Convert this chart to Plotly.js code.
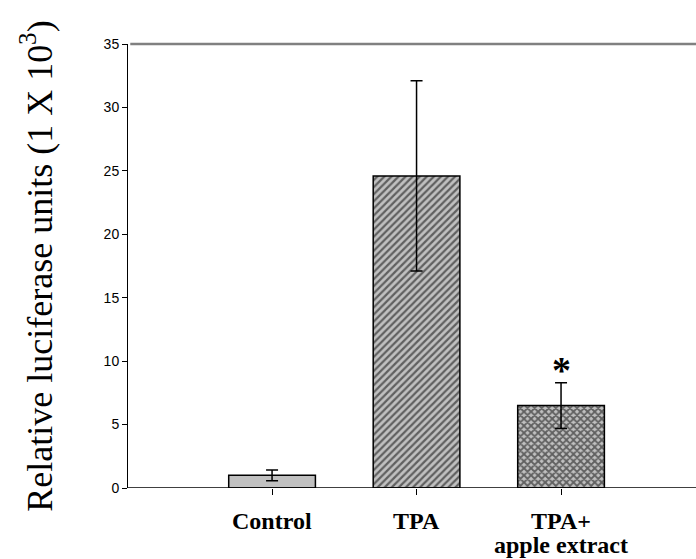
<!DOCTYPE html>
<html>
<head>
<meta charset="utf-8">
<script src="https://cdn.plot.ly/plotly-3.0.1.min.js"></script>
<style>
  html, body { margin: 0; padding: 0; background: #fff; }
  #chart { width: 696px; height: 559px; }
</style>
</head>
<body>
<div id="chart"></div>
<script>
const categories = ["Control", "TPA", "TPA+|apple extract"];
const values = [1.0, 24.6, 6.5];
const errors = [0.42, 7.5, 1.8];
const significance = ["", "", "*"];
const yTicks = [0, 5, 10, 15, 20, 25, 30, 35];

const xPos = categories.map((c, i) => i);
const serif = "Liberation Serif, Times New Roman, serif";

const patternShapes = ["", "/", "x"];
const barTraces = categories.map((c, i) => ({
  type: "bar",
  x: [xPos[i]],
  y: [values[i]],
  width: 0.6,
  error_y: { type: "data", array: [errors[i]], visible: true, color: "#000", thickness: 1.5, width: 6 },
  marker: {
    color: "#c0c0c0",
    line: { color: "#000", width: 1.5 },
    pattern: patternShapes[i] ? {
      shape: patternShapes[i],
      bgcolor: "#c0c0c0",
      fgcolor: "#000",
      size: 5,
      solidity: patternShapes[i] === "/" ? 0.45 : 0.6,
      fillmode: "overlay"
    } : { shape: "" }
  },
  showlegend: false,
  hoverinfo: "skip"
}));

const annotations = [];
significance.forEach((s, i) => {
  if (s) annotations.push({
    x: xPos[i], y: values[i] + errors[i],
    xref: "x", yref: "y",
    text: "<b>" + s + "</b>",
    showarrow: false,
    yanchor: "bottom",
    yshift: -10,
    font: { family: serif, size: 38, color: "#000" }
  });
});
categories.forEach((c, i) => {
  c.split("|").forEach((line, j) => {
    annotations.push({
      x: xPos[i], y: 0, xref: "x", yref: "paper",
      text: "<b>" + line + "</b>",
      showarrow: false,
      yanchor: "middle",
      borderpad: 0,
      yshift: -33 - 24 * j,
      font: { family: serif, size: 24, color: "#000" }
    });
  });
});

const layout = {
  width: 696, height: 559,
  margin: { l: 128, r: 0, t: 44, b: 71 },
  paper_bgcolor: "#fff",
  plot_bgcolor: "#fff",
  xaxis: {
    range: [-0.997, 2.934],
    tickmode: "array",
    tickvals: xPos,
    showticklabels: false,
    ticks: "outside", ticklen: 6, tickwidth: 1, tickcolor: "#000",
    showline: false, showgrid: false, zeroline: false
  },
  yaxis: {
    range: [0, 35],
    tickmode: "array",
    tickvals: yTicks,
    ticktext: yTicks.map(String),
    ticks: "outside", ticklen: 5, tickwidth: 1, tickcolor: "#000",
    showline: true, linecolor: "#000", linewidth: 1,
    showgrid: false, zeroline: false,
    tickfont: { family: "Liberation Sans, Arial, sans-serif", size: 14, color: "#000" },
    title: {
      text: "Relative luciferase units (1 X 10<sup>3</sup>)",
      font: { family: serif, size: 36, color: "#000" },
      standoff: 40
    }
  },
  shapes: [
    { type: "line", xref: "paper", yref: "paper", x0: 0.004, x1: 1, y0: 1, y1: 1, line: { color: "#808080", width: 2.5 } },
    { type: "line", xref: "paper", yref: "y", x0: 0, x1: 1, y0: 0, y1: 0, line: { color: "#000", width: 1.5 } }
  ],
  annotations: annotations
};

Plotly.newPlot("chart", barTraces, layout, { displayModeBar: false, staticPlot: true });
</script>
</body>
</html>
